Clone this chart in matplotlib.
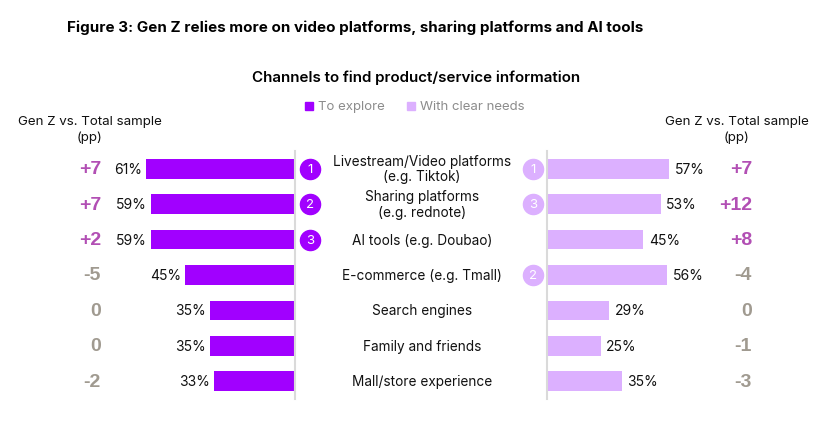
from matplotlib import pyplot as plt
from matplotlib.transforms import blended_transform_factory
import numpy as np

categories = ['Livestream/Video platforms\n(e.g. Tiktok)', 'Sharing platforms\n(e.g. rednote)',
              'AI tools (e.g. Doubao)', 'E-commerce (e.g. Tmall)', 'Search engines',
              'Family and friends', 'Mall/store experience']
explore = [61, 59, 59, 45, 35, 35, 33]
clear_needs = [57, 53, 45, 56, 29, 25, 35]
explore_diff = [7, 7, 2, -5, 0, 0, -2]
needs_diff = [7, 12, 8, -4, 0, -1, -3]
explore_rank = [1, 2, 3, None, None, None, None]
needs_rank = [1, 3, None, 2, None, None, None]

W, H = 832, 435
C_EXP = '#A100FF'
C_NEED = '#DCB0FF'
C_POS = '#B24FB4'
C_NEG = '#A09A90'

plt.rcParams['font.family'] = ['Inter', 'DejaVu Sans']
fig = plt.figure(figsize=(W / 100, H / 100), dpi=100)


def fx(px):
    return px / W


def fy(py):
    return 1 - py / H


y = np.arange(len(categories))

# left (to explore) bars, growing leftwards
axL = fig.add_axes([fx(124), fy(400), (295 - 124) / W, 248 / H])
axL.barh(y, explore, height=0.56, color=C_EXP)
axL.set_xlim(70, 0)
axL.set_ylim(6.5, -0.5)

# right (with clear needs) bars
axR = fig.add_axes([fx(547), fy(400), (697 - 547) / W, 248 / H])
axR.barh(y, clear_needs, height=0.56, color=C_NEED)
axR.set_xlim(0, 70)
axR.set_ylim(6.5, -0.5)

for ax, keep in [(axL, 'right'), (axR, 'left')]:
    ax.set_xticks([])
    ax.set_yticks([])
    for s in ax.spines:
        ax.spines[s].set_visible(s == keep)
    ax.spines[keep].set_color('#DADADA')
    ax.spines[keep].set_linewidth(1.5)

# percentage labels
for i, v in enumerate(explore):
    axL.annotate(f'{v}%', (v, i), xytext=(-3, 0), textcoords='offset points',
                 ha='right', va='center', fontsize=10, color='#111111')
for i, v in enumerate(clear_needs):
    axR.annotate(f'{v}%', (v, i), xytext=(4, 0), textcoords='offset points',
                 ha='left', va='center', fontsize=10, color='#111111')

# category labels and rank circles
trL = blended_transform_factory(fig.transFigure, axL.transData)
trR = blended_transform_factory(fig.transFigure, axR.transData)
for i, cat in enumerate(categories):
    axL.text(fx(422), i, cat, transform=trL, ha='center', va='center',
             fontsize=9.8, color='#111111', linespacing=1.12)
    if explore_rank[i]:
        axL.scatter([fx(310)], [i], s=210, color=C_EXP, transform=trL, clip_on=False, zorder=3)
        axL.text(fx(310), i, str(explore_rank[i]), transform=trL, ha='center', va='center',
                 fontsize=9.5, color='white', zorder=4)
    if needs_rank[i]:
        axR.scatter([fx(533)], [i], s=210, color=C_NEED, transform=trR, clip_on=False, zorder=3)
        axR.text(fx(533), i, str(needs_rank[i]), transform=trR, ha='center', va='center',
                 fontsize=9.5, color='white', zorder=4)


def fmt(d):
    return f'+{d}' if d > 0 else str(d)


# Gen Z vs total differences
for i in range(len(categories)):
    d = explore_diff[i]
    axL.text(fx(101), i, fmt(d), transform=trL, ha='right', va='center', fontsize=14,
             fontweight='bold', family='Liberation Sans', color=C_POS if d > 0 else C_NEG)
    d = needs_diff[i]
    axR.text(fx(752), i, fmt(d), transform=trR, ha='right', va='center', fontsize=14,
             fontweight='bold', family='Liberation Sans', color=C_POS if d > 0 else C_NEG)

# headers
for cx in [90, 737]:
    fig.text(fx(cx), fy(130), 'Gen Z vs. Total sample\n(pp)', ha='center', va='center',
             fontsize=9.6, color='#111111', linespacing=1.4)

fig.text(fx(67), fy(28), 'Figure 3: Gen Z relies more on video platforms, sharing platforms and AI tools',
         ha='left', va='center', fontsize=10.9, fontweight='bold', color='#000000')
fig.text(fx(416), fy(78), 'Channels to find product/service information', ha='center', va='center',
         fontsize=10.9, fontweight='semibold', color='#000000')

# legend
fig.patches.append(plt.Rectangle((fx(305), fy(111)), 8 / W, 8 / H, color=C_EXP,
                                 transform=fig.transFigure, figure=fig))
fig.text(fx(318), fy(107), 'To explore', ha='left', va='center', fontsize=9.5, color='#8C8C8C')
fig.patches.append(plt.Rectangle((fx(407), fy(111)), 8 / W, 8 / H, color=C_NEED,
                                 transform=fig.transFigure, figure=fig))
fig.text(fx(420), fy(107), 'With clear needs', ha='left', va='center', fontsize=9.5, color='#8C8C8C')

fig.savefig('out.png', dpi=100, facecolor='white')
